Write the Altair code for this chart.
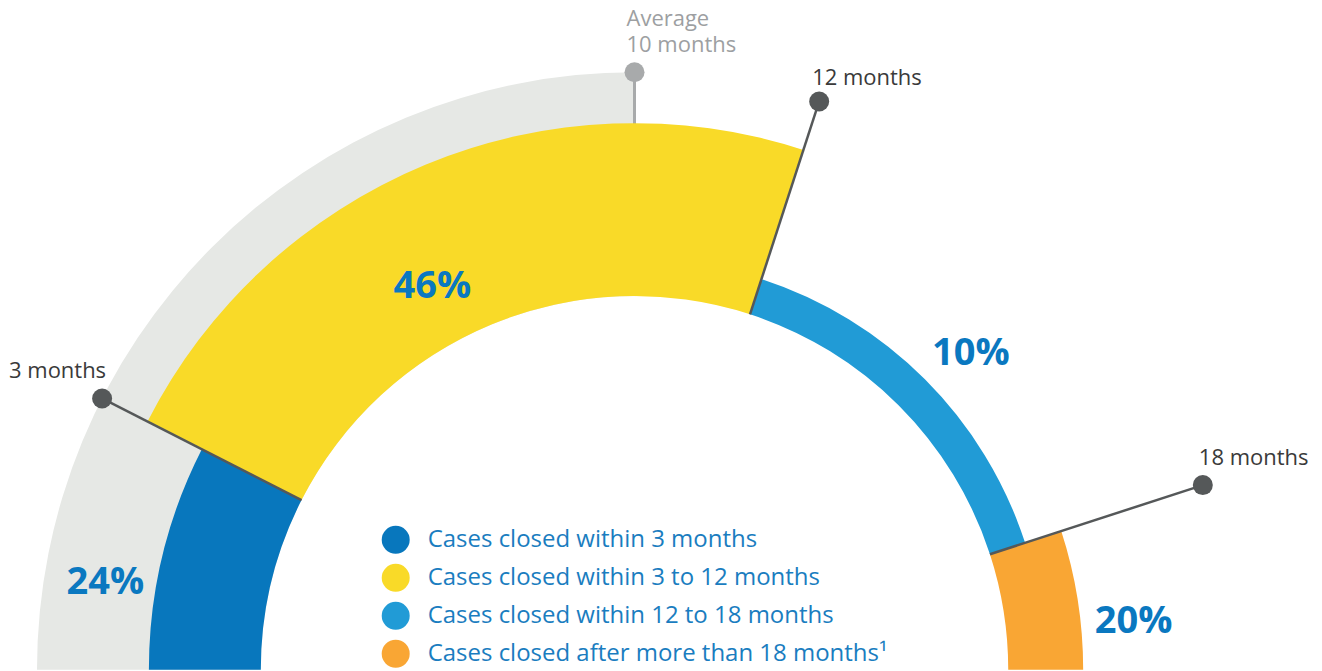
import altair as alt
import pandas as pd

# ---------------- data ----------------
categories = [
    "Cases closed within 3 months",
    "Cases closed within 3 to 12 months",
    "Cases closed within 12 to 18 months",
    "Cases closed after more than 18 months\u00b9",
]
start_months = [0, 3, 12, 18]
end_months = [3, 12, 18, 20]
share_labels = ["24%", "46%", "10%", "20%"]

marker_months = [3, 12, 18]
marker_labels = ["3 months", "12 months", "18 months"]
average_months = 10
average_lines = ["Average", "10 months"]
scale_max = 20

# ---------------- style ----------------
colors = ["#0877bd", "#f9da28", "#219bd6", "#f9a634"]
bg_grey = "#e6e8e5"
dark_grey = "#555859"
avg_grey = "#a8aaab"
pct_blue = "#0a78c0"
legend_blue = "#1a7dc0"
FONT = "Open Sans"

W, H = 1306, 663
CX, CY = 626, 662
R_IN = 374
R_OUT = [486, 547, 411, 449]
R_BG = 598
R_DOT = 598
label_at_months = [1.06, 6.92, 15.18, 19.37]
label_radius = [537, 435, 463, 502]
marker_text_style = [  # align, dx, dy
    ("right", 4, -20),
    ("left", -7, -16),
    ("left", -4, -20),
]

theta_scale = alt.Scale(domain=[0, scale_max], range=[-3.141592653589793 / 2, 3.141592653589793 / 2])

seg_df = pd.DataFrame({
    "category": categories,
    "start": start_months,
    "end": end_months,
    "r_in": [R_IN] * 4,
    "r_out": R_OUT,
})
bg_df = pd.DataFrame({"start": [0], "end": [average_months], "r_in": [R_IN], "r_out": [R_BG]})
lab_df = pd.DataFrame({"label": share_labels, "pos": label_at_months, "rad": label_radius})


def polar_xy(chart, r, key):
    th = f"(-PI/2 + PI*datum.m/{scale_max})"
    return chart.transform_calculate(
        **{
            f"x_{key}": f"{CX} + {r}*sin({th})",
            f"y_{key}": f"{CY} - {r}*cos({th})",
        }
    )


bg = alt.Chart(bg_df).mark_arc(color=bg_grey).encode(
    theta=alt.Theta("start:Q", scale=theta_scale, stack=False),
    theta2="end:Q",
    radius=alt.Radius("r_out:Q", scale=None),
    radius2="r_in:Q",
    x=alt.value(CX),
    y=alt.value(CY),
)

# average line (under the segments)
avg_df = pd.DataFrame({"m": [average_months]})
avg_line = polar_xy(polar_xy(alt.Chart(avg_df), R_IN, "a"), R_DOT, "b").mark_rule(
    color=avg_grey, strokeWidth=3
).encode(
    x=alt.X("x_a:Q", scale=None), y=alt.Y("y_a:Q", scale=None),
    x2="x_b:Q", y2="y_b:Q",
)
avg_dot = polar_xy(alt.Chart(avg_df), R_DOT, "b").mark_point(
    filled=True, shape="circle", size=400, color=avg_grey, opacity=1
).encode(x=alt.X("x_b:Q", scale=None), y=alt.Y("y_b:Q", scale=None))

segs = alt.Chart(seg_df).mark_arc().encode(
    theta=alt.Theta("start:Q", scale=theta_scale, stack=False),
    theta2="end:Q",
    radius=alt.Radius("r_out:Q", scale=None),
    radius2="r_in:Q",
    x=alt.value(CX),
    y=alt.value(CY),
    color=alt.Color(
        "category:N",
        scale=alt.Scale(domain=categories, range=colors),
        sort=categories,
        legend=alt.Legend(
            title=None, orient="none", legendX=373, legendY=518,
            symbolType="circle", symbolSize=784, symbolStrokeWidth=0,
            labelFont=FONT, labelFontSize=24, labelColor=legend_blue,
            labelOffset=18, labelLimit=700, rowPadding=10, padding=0,
        ),
    ),
)

mk_df = pd.DataFrame({"m": marker_months, "label": marker_labels})
mk_lines = polar_xy(polar_xy(alt.Chart(mk_df), R_IN, "a"), R_DOT, "b").mark_rule(
    color=dark_grey, strokeWidth=2.5
).encode(
    x=alt.X("x_a:Q", scale=None), y=alt.Y("y_a:Q", scale=None),
    x2="x_b:Q", y2="y_b:Q",
)
mk_dots = polar_xy(alt.Chart(mk_df), R_DOT, "b").mark_point(
    filled=True, shape="circle", size=400, color=dark_grey, opacity=1
).encode(x=alt.X("x_b:Q", scale=None), y=alt.Y("y_b:Q", scale=None))

mk_texts = []
for lab, (al, dx, dy) in zip(marker_labels, marker_text_style):
    mk_texts.append(
        polar_xy(alt.Chart(mk_df), R_DOT, "b").transform_filter(alt.datum.label == lab).mark_text(
            font=FONT, fontSize=22, color="#3a3a3a", align=al, baseline="alphabetic", dx=dx, dy=dy
        ).encode(x=alt.X("x_b:Q", scale=None), y=alt.Y("y_b:Q", scale=None), text="label:N")
    )

avg_txt_df = pd.DataFrame({"m": [average_months] * 2, "label": average_lines})
avg_texts = []
for lab, dy in zip(average_lines, [-46, -20]):
    avg_texts.append(
        polar_xy(alt.Chart(avg_txt_df), R_DOT, "b").transform_filter(alt.datum.label == lab).mark_text(
            font=FONT, fontSize=22, color="#9d9fa2", align="left", baseline="alphabetic", dx=-8, dy=dy
        ).encode(x=alt.X("x_b:Q", scale=None), y=alt.Y("y_b:Q", scale=None), text="label:N")
    )

pct = alt.Chart(lab_df).mark_text(
    font=FONT, fontSize=38, fontWeight="bold", color=pct_blue, align="center", baseline="middle", dy=2
).encode(
    theta=alt.Theta("pos:Q", scale=theta_scale, stack=False),
    radius=alt.Radius("rad:Q", scale=None),
    x=alt.value(CX),
    y=alt.value(CY),
    text="label:N",
)

chart = alt.layer(
    bg, avg_line, segs, mk_lines, avg_dot, mk_dots, pct, *mk_texts, *avg_texts
).properties(width=W, height=H, padding=0).configure_view(stroke=None)

chart.save("out.html", embed_options={"renderer": "svg", "actions": False})
